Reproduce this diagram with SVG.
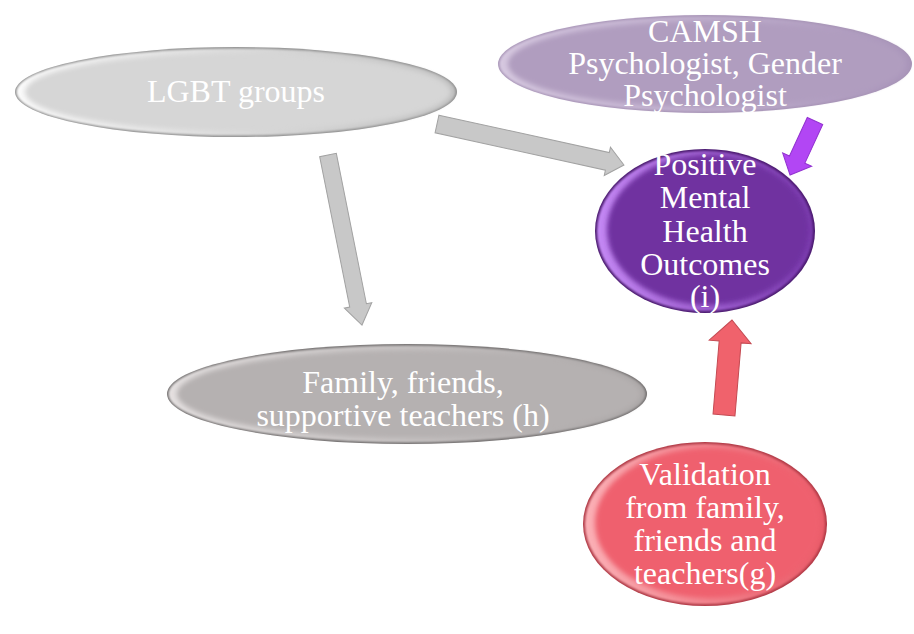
<svg xmlns="http://www.w3.org/2000/svg" width="914" height="634" viewBox="0 0 914 634">
  <defs>
    <filter id="soft1" x="-10%" y="-20%" width="120%" height="140%">
      <feGaussianBlur stdDeviation="1.2"/>
    </filter>
    <filter id="soft3" x="-10%" y="-20%" width="120%" height="140%">
      <feGaussianBlur stdDeviation="2.5"/>
    </filter>
    <!-- bevel highlight: brighter on the left, fading to the right -->
    <linearGradient id="hlGray" x1="0" y1="0" x2="1" y2="0">
      <stop offset="0" stop-color="#fafafa"/>
      <stop offset="1" stop-color="#bdbdbd"/>
    </linearGradient>
    <linearGradient id="hlLilac" x1="0" y1="0" x2="1" y2="0">
      <stop offset="0" stop-color="#d6c8e0"/>
      <stop offset="1" stop-color="#a995ba"/>
    </linearGradient>
    <linearGradient id="hlPurple" x1="0" y1="0" x2="1" y2="0">
      <stop offset="0" stop-color="#c488f4"/>
      <stop offset="1" stop-color="#7a3aae"/>
    </linearGradient>
    <linearGradient id="hlFamily" x1="0" y1="0" x2="1" y2="0">
      <stop offset="0" stop-color="#e4e0e0"/>
      <stop offset="1" stop-color="#a9a5a5"/>
    </linearGradient>
    <linearGradient id="hlRed" x1="0" y1="0" x2="1" y2="0">
      <stop offset="0" stop-color="#fbb0b6"/>
      <stop offset="1" stop-color="#e95a68"/>
    </linearGradient>
    <style>
      text { font-family: "Liberation Serif", "Times New Roman", serif; font-size: 32px; fill: #ffffff; text-anchor: middle; }
      .gray-arrow { fill: #c8c8c8; stroke: #a2a2a2; stroke-width: 1; }
      .purple-arrow { fill: #b246f4; stroke: #9232d0; stroke-width: 1; }
      .red-arrow { fill: #f0626c; stroke: #c44a52; stroke-width: 1; }
    </style>
  </defs>

  <rect width="914" height="634" fill="#ffffff"/>

  <!-- connectors: block arrows -->
  <g id="connectors">
    <polygon class="gray-arrow" transform="translate(328,155) rotate(78.7)" points="0,-8.5 153.4,-8.5 153.4,-14 173.4,0 153.4,14 153.4,8.5 0,8.5"/>
    <polygon class="gray-arrow" transform="translate(437,124) rotate(12.37)" points="0,-9 174.4,-9 174.4,-14.5 191.4,0 174.4,14.5 174.4,9 0,9"/>
    <polygon class="purple-arrow" transform="translate(815,121) rotate(114.8)" points="0,-8.5 42.5,-8.5 42.5,-16 59.5,0 42.5,16 42.5,8.5 0,8.5"/>
    <polygon class="red-arrow" transform="translate(724,415) rotate(-85.2)" points="0,-11 73.3,-11 73.3,-21 95.3,0 73.3,21 73.3,11 0,11"/>
  </g>

  <!-- LGBT groups -->
  <g id="node-lgbt">
    <ellipse cx="236" cy="92" rx="221" ry="45" fill="#8c8c8c"/>
    <ellipse cx="236" cy="92" rx="219.5" ry="43.5" fill="url(#hlGray)" filter="url(#soft1)"/>
    <ellipse cx="238" cy="92" rx="213" ry="39" fill="#d6d6d6" filter="url(#soft3)"/>
    <text x="236" y="102">LGBT groups</text>
  </g>

  <!-- CAMSH -->
  <g id="node-camsh">
    <ellipse cx="705" cy="64" rx="207" ry="49" fill="#a794b6"/>
    <ellipse cx="705" cy="64" rx="205.5" ry="47.5" fill="url(#hlLilac)" filter="url(#soft1)"/>
    <ellipse cx="707" cy="64" rx="199" ry="43" fill="#b09dbf" filter="url(#soft3)"/>
    <text x="705" y="42">CAMSH</text>
    <text x="705" y="74">Psychologist, Gender</text>
    <text x="705" y="106">Psychologist</text>
  </g>

  <!-- Positive Mental Health Outcomes -->
  <g id="node-outcomes">
    <ellipse cx="705" cy="231" rx="110" ry="82" fill="#4a1a6e"/>
    <ellipse cx="705" cy="231" rx="108" ry="80" fill="url(#hlPurple)" filter="url(#soft1)"/>
    <ellipse cx="708" cy="230" rx="101" ry="75" fill="#7030a0" filter="url(#soft3)"/>
    <text x="705" y="175">Positive</text>
    <text x="705" y="208">Mental</text>
    <text x="705" y="242">Health</text>
    <text x="705" y="275">Outcomes</text>
    <text x="705" y="307">(i)</text>
  </g>

  <!-- Family, friends, supportive teachers -->
  <g id="node-family">
    <ellipse cx="407" cy="394" rx="240" ry="50" fill="#6e6b6b"/>
    <ellipse cx="407" cy="394" rx="238.5" ry="48.5" fill="url(#hlFamily)" filter="url(#soft1)"/>
    <ellipse cx="409" cy="394" rx="232" ry="44" fill="#b5b1b1" filter="url(#soft3)"/>
    <text x="403" y="393">Family, friends,</text>
    <text x="403" y="426">supportive teachers (h)</text>
  </g>

  <!-- Validation -->
  <g id="node-validation">
    <ellipse cx="705" cy="524" rx="122" ry="82" fill="#b03a46"/>
    <ellipse cx="705" cy="524" rx="120" ry="80" fill="url(#hlRed)" filter="url(#soft1)"/>
    <ellipse cx="708" cy="523" rx="113" ry="75" fill="#ef606e" filter="url(#soft3)"/>
    <text x="705" y="485">Validation</text>
    <text x="705" y="518">from family,</text>
    <text x="705" y="551">friends and</text>
    <text x="705" y="584">teachers(g)</text>
  </g>
</svg>
